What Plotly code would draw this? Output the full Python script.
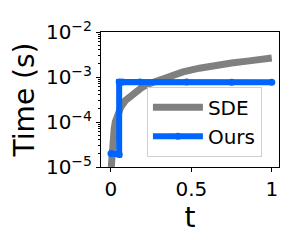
import plotly.graph_objects as go

# SDE timing (gray)
sde_t = [0.002, 0.006, 0.012, 0.02, 0.027, 0.04, 0.06, 0.09, 0.14, 0.19, 0.243, 0.3, 0.345,
         0.4, 0.448, 0.55, 0.654, 0.75, 0.86, 0.93, 1.0]
sde_v = [1.0e-5, 2.2e-5, 3.8e-5, 7e-5, 1.0e-4, 1.45e-4, 2.1e-4, 3.0e-4, 4.4e-4, 5.8e-4, 7.2e-4,
         8.7e-4, 1.0e-3, 1.15e-3, 1.3e-3, 1.57e-3, 1.84e-3, 2.05e-3, 2.28e-3, 2.45e-3, 2.65e-3]

# Ours timing (blue)
ours_t = [0.0, 0.051, 0.051, 0.07, 0.18, 0.47, 0.75, 1.0]
ours_v = [2.0e-5, 1.9e-5, 7.7e-4, 7.7e-4, 7.7e-4, 7.7e-4, 7.6e-4, 7.6e-4]

ytick_vals = [1e-5, 1e-4, 1e-3, 1e-2]
ytick_text = ["10<sup>−5</sup>", "10<sup>−4</sup>", "10<sup>−3</sup>", "10<sup>−2</sup>"]
xtick_vals = [0, 0.5, 1]
xtick_text = ["0", "0.5", "1"]

minor_vals = [m * 10.0 ** e for e in (-5, -4, -3) for m in range(2, 10)]

fig = go.Figure()
fig.add_trace(go.Scatter(x=sde_t, y=sde_v, mode="lines", name="SDE",
                         line=dict(color="#808080", width=7)))
fig.add_trace(go.Scatter(x=ours_t, y=ours_v, mode="lines+markers", name="Ours",
                         line=dict(color="#0064FF", width=6),
                         marker=dict(color="#0064FF", size=7)))

fig.update_layout(
    width=282, height=232,
    margin=dict(l=93, r=10, t=14, b=73),
    paper_bgcolor="white", plot_bgcolor="white",
    font=dict(family="DejaVu Sans", color="black"),
    showlegend=True,
    legend=dict(x=0.258, y=0.076, xanchor="left", yanchor="bottom",
                bgcolor="rgba(255,255,255,0.85)", bordercolor="#d0d0d0", borderwidth=1,
                font=dict(size=20, family="DejaVu Sans"), itemwidth=50,
                tracegroupgap=2),
    xaxis=dict(range=[-0.062, 1.045], tickvals=xtick_vals, ticktext=xtick_text,
               ticks="outside", ticklen=4, tickcolor="black",
               showline=True, linecolor="black", linewidth=1, mirror=True,
               showgrid=False, zeroline=False, ticklabeloverflow="allow",
               tickfont=dict(size=20),
               title=dict(text="t", font=dict(size=28), standoff=4)),
    yaxis=dict(type="log", range=[-5, -2], tickvals=ytick_vals, ticktext=ytick_text,
               ticks="outside", ticklen=4, tickcolor="black",
               showline=True, linecolor="black", linewidth=1, mirror=True,
               showgrid=False, zeroline=False, ticklabeloverflow="allow",
               tickfont=dict(size=20),
               minor=dict(tickvals=minor_vals, ticks="outside", ticklen=2, tickcolor="black"),
               title=dict(text="Time (s)", font=dict(size=28), standoff=6)),
)

fig.write_html("out.html")
